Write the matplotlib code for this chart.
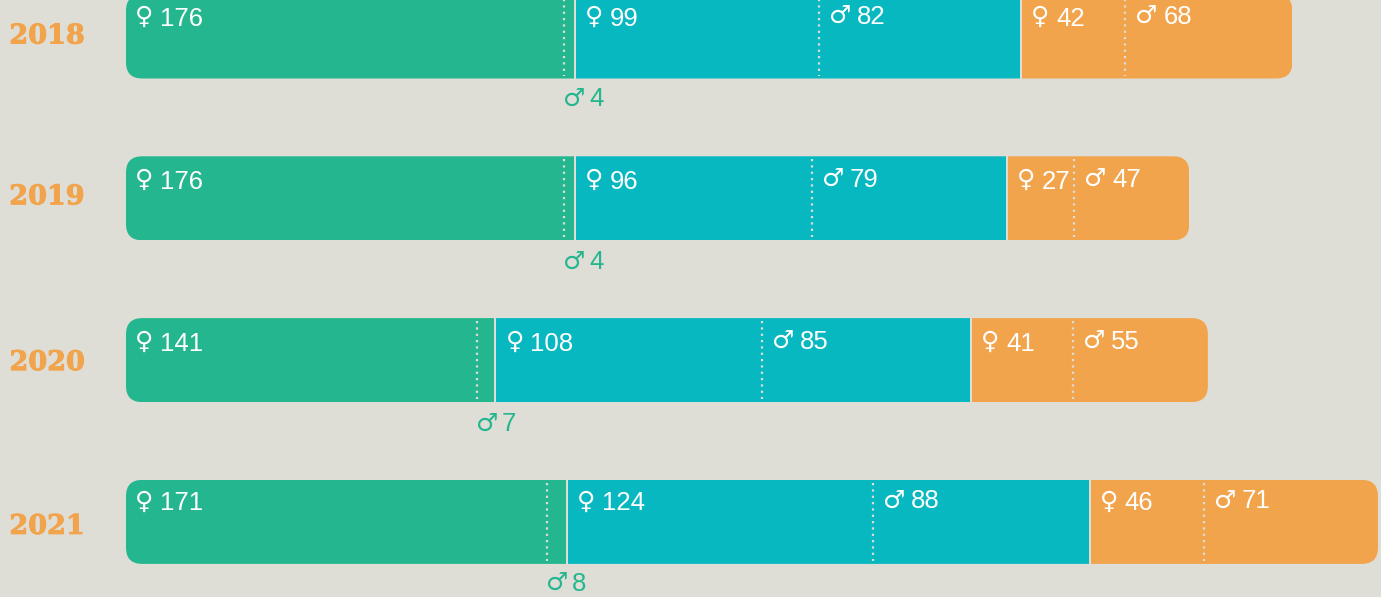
import matplotlib
matplotlib.use("Agg")
import matplotlib.pyplot as plt
import matplotlib.patheffects as pe
from matplotlib.patches import FancyBboxPatch

years = ["2018", "2019", "2020", "2021"]
green_f = [176, 176, 141, 171]
green_m = [4, 4, 7, 8]
teal_f = [99, 96, 108, 124]
teal_m = [82, 79, 85, 88]
orange_f = [42, 27, 41, 46]
orange_m = [68, 47, 55, 71]

BG = "#DEDED7"
GREEN = "#24B68F"
TEAL = "#07B8C1"
ORANGE = "#F2A44C"
DOTS = "#DEDED7"
FEMALE = "\u2640"
MALE = "\u2642"

W, H = 1381, 597
LEFT = 126
PX = 2.455     # pixels per unit on the x axis
ROW_PX = 161.8 # pixels per row on the y axis
GAP = 0.8      # space between the colour groups, in x units
BAR_H = 84 / ROW_PX
RADIUS = 6.6   # corner radius, in x units
# the green group is drawn a little longer than the others in the first three rows
green_stretch = [1.014, 1.014, 1.014, 1.002]
# labels do not sit at the same height against their bars
year_dy = [-0.5, -1.5, 2.5, 4.5]
label_dy = [0.5, 2, 2, -0.5]

fig = plt.figure(figsize=(W / 100, H / 100), dpi=100, facecolor=BG)
ax = fig.add_axes([LEFT / W, 0, 1 - LEFT / W, 1])
ax.set_xlim(0, (W - LEFT) / PX)
ax.set_ylim((H - 36.5) / ROW_PX, -36.5 / ROW_PX)
ax.axis("off")


def label(x, row, symbol, number, dy, color="white"):
    # dy is in pixels below the row centre
    female = symbol == FEMALE
    sym_dx, num_dx = (9, 34) if female else (10, 38)
    sym_dy = dy - 2 if female else dy - 1
    ax.annotate(symbol, (x, row), xytext=(sym_dx * 0.72, -sym_dy * 0.72),
                textcoords="offset points", color=color, fontsize=18,
                family="DejaVu Sans", fontweight="bold", ha="left", va="center")
    ax.annotate(str(number), (x, row), xytext=(num_dx * 0.72, -dy * 0.72),
                textcoords="offset points", color=color, fontsize=18.5,
                family="Liberation Sans", ha="left", va="center")


for row, year in enumerate(years):
    g_f = green_f[row] * green_stretch[row]
    g_m = green_m[row] * green_stretch[row]
    x1 = g_f + g_m + GAP
    x2 = x1 + teal_f[row] + teal_m[row] + GAP
    total = x2 + orange_f[row] + orange_m[row]

    # every segment of the row is clipped to one rounded box
    box = FancyBboxPatch((0, row - BAR_H / 2), total, BAR_H,
                         boxstyle=f"round,pad=0,rounding_size={RADIUS}",
                         mutation_aspect=(RADIUS * PX / ROW_PX) / RADIUS,
                         fc="none", ec="none")
    ax.add_patch(box)
    segs = [(0, g_f + g_m, GREEN),
            (x1, teal_f[row] + teal_m[row], TEAL),
            (x2, orange_f[row] + orange_m[row], ORANGE)]
    for left, width, color in segs:
        bar = ax.barh(row, width, height=BAR_H, left=left, color=color, linewidth=0)
        bar[0].set_clip_path(box)

    splits = [g_f, x1 + teal_f[row], x2 + orange_f[row]]
    ax.vlines(splits, row - BAR_H / 2 + 3 / ROW_PX, row + BAR_H / 2 - 3 / ROW_PX,
              color=DOTS, linewidth=1.6, linestyle=(0, (1, 1.85)))

    f_y = -18 + label_dy[row]
    m_y = -20 + label_dy[row]
    label(0, row, FEMALE, green_f[row], f_y)
    label(x1, row, FEMALE, teal_f[row], f_y)
    label(splits[1], row, MALE, teal_m[row], m_y)
    label(x2, row, FEMALE, orange_f[row], f_y)
    label(splits[2], row, MALE, orange_m[row], m_y)

    # the small green male share sits under the bar
    under = -14 - label_dy[row] * 0.72
    ax.annotate(MALE, (g_f, row + BAR_H / 2), xytext=(-0.5, under), textcoords="offset points",
                color=GREEN, fontsize=18, family="DejaVu Sans", fontweight="bold",
                ha="left", va="center")
    ax.annotate(str(green_m[row]), (g_f, row + BAR_H / 2), xytext=(18, under - 0.5),
                textcoords="offset points", color=GREEN, fontsize=18.5,
                family="Liberation Sans", ha="left", va="center")

    ax.annotate(year, (0, row), xycoords=("axes fraction", "data"),
                xytext=(-41 * 0.72, -year_dy[row] * 0.72),
                textcoords="offset points", color=ORANGE, fontsize=19.5,
                family="DejaVu Serif", fontweight="bold", ha="right", va="center",
                path_effects=[pe.withStroke(linewidth=0.7, foreground=ORANGE)])

fig.savefig("out.png", dpi=100, facecolor=BG)
